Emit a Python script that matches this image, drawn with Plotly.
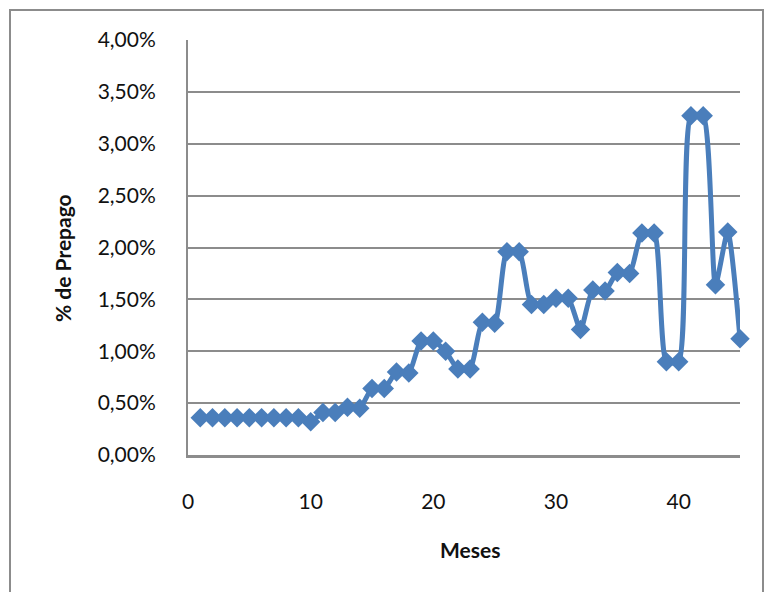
import plotly.graph_objects as go

# Monthly prepayment rate (% de Prepago) by month
meses = list(range(1, 46))
prepago = [
    0.36, 0.36, 0.36, 0.36, 0.36, 0.36, 0.36, 0.36, 0.36, 0.32,
    0.41, 0.41, 0.46, 0.45, 0.64, 0.64, 0.80, 0.79, 1.10, 1.10,
    1.00, 0.83, 0.83, 1.28, 1.27, 1.96, 1.96, 1.45, 1.45, 1.51,
    1.51, 1.21, 1.59, 1.58, 1.76, 1.75, 2.14, 2.14, 0.90, 0.90,
    3.27, 3.27, 1.64, 2.15, 1.12,
]
prepago_frac = [v / 100 for v in prepago]

y_ticks = [0, 0.005, 0.01, 0.015, 0.02, 0.025, 0.03, 0.035, 0.04]
x_ticks = [0, 10, 20, 30, 40]

blue = "#4a7ebb"
grid = "#8c8c8c"
font_family = "Lato, 'Open Sans', sans-serif"

fig = go.Figure()
fig.add_trace(go.Scatter(
    x=meses, y=prepago_frac,
    mode="lines+markers",
    line=dict(color=blue, width=5, shape="spline", smoothing=0.6),
    marker=dict(symbol="diamond", size=15, color=blue),
    cliponaxis=False,
    showlegend=False,
    hoverinfo="x+y",
))

L, R, T, B = 188, 30, 40, 137
W, H = 770, 592
pw, ph = W - L - R, H - T - B

def px_x(p):
    return (p - L) / pw

def px_y(p):
    return (H - B - p) / ph

fig.update_layout(
    width=W, height=H,
    margin=dict(l=L, r=R, t=T, b=B, autoexpand=False),
    paper_bgcolor="white", plot_bgcolor="white",
    separators=",.",
    font=dict(family=font_family, size=21, color="#111"),
    xaxis=dict(
        range=[0, 45], tickvals=x_ticks, showgrid=False, zeroline=False,
        showline=True, linecolor=grid, linewidth=2.5, ticks="",
        ticklabelstandoff=26,
    ),
    yaxis=dict(
        range=[0, 0.04], tickvals=y_ticks, tickformat=".2%",
        showgrid=True, gridcolor=grid, gridwidth=2, zeroline=False,
        showline=True, linecolor=grid, linewidth=2, ticks="",
        ticklabelstandoff=26,
    ),
    annotations=[
        dict(text="<b>% de Prepago</b>", textangle=-90, xref="paper", yref="paper",
             x=px_x(62), y=px_y(258), xanchor="center", yanchor="middle",
             showarrow=False, font=dict(size=21)),
        dict(text="<b>Meses</b>", xref="paper", yref="paper",
             x=px_x(470), y=px_y(549), xanchor="center", yanchor="middle",
             showarrow=False, font=dict(size=21)),
    ],
    shapes=[
        dict(type="rect", xref="paper", yref="paper",
             x0=px_x(10), x1=px_x(763), y0=px_y(605), y1=px_y(10),
             line=dict(color="#8c8c8c", width=2), layer="below"),
    ],
)

fig.write_html("out.html")
